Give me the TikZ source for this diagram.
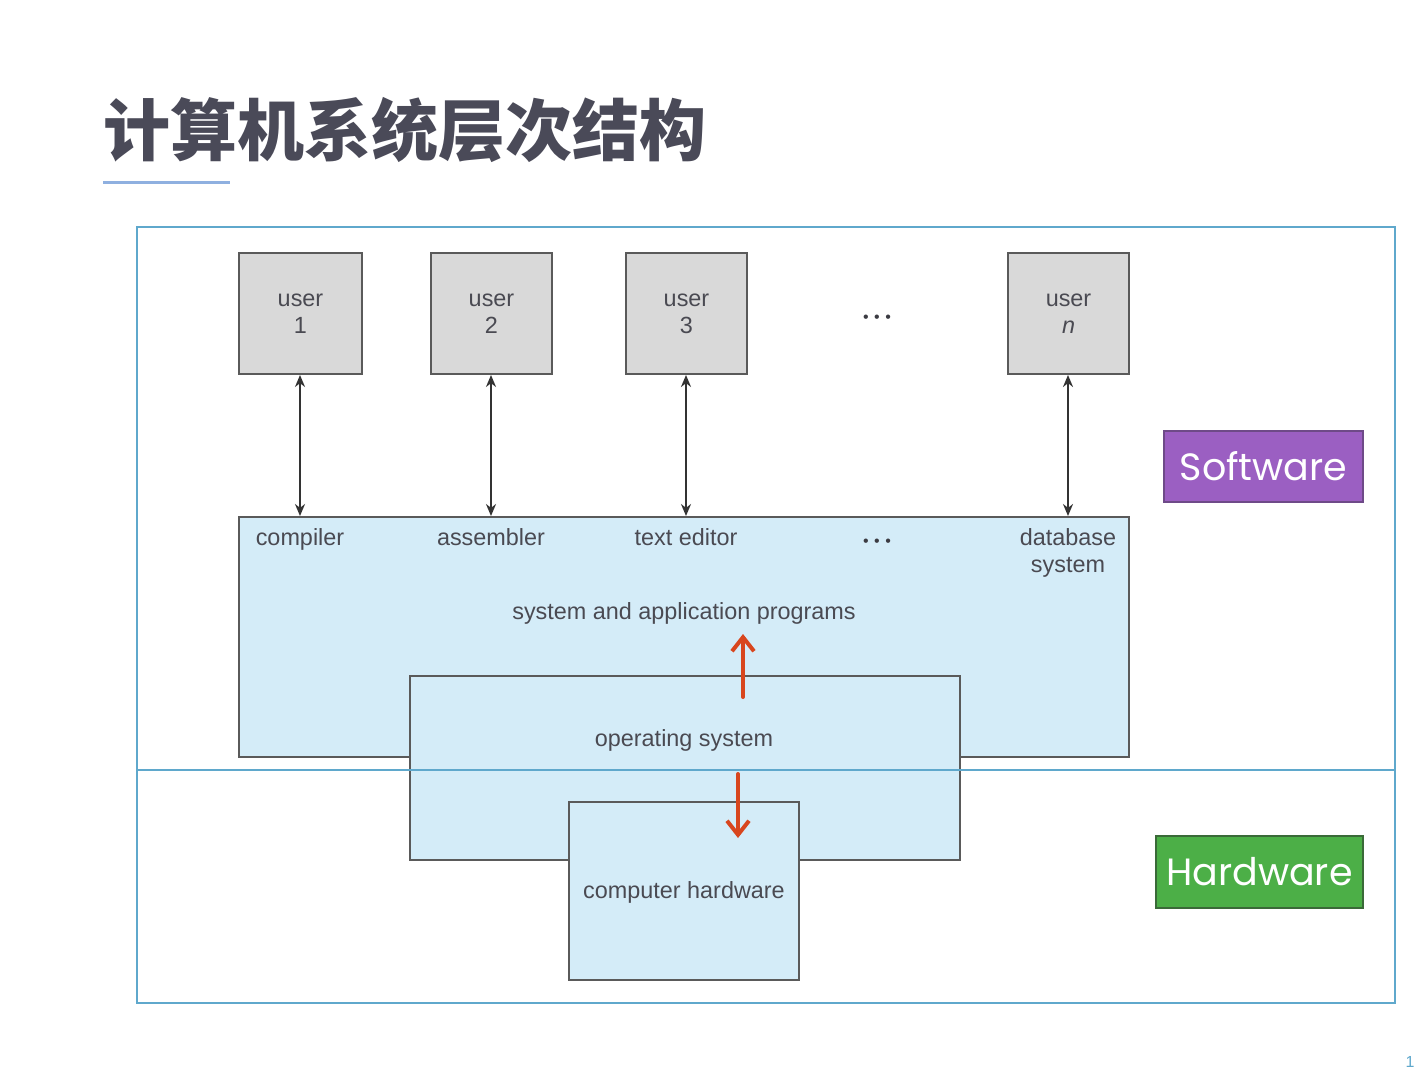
\documentclass[tikz,border=0pt]{standalone}
\usepackage{fontspec}
\setmainfont{Liberation Sans}
\newfontfamily\cjk{Noto Sans CJK SC}
\newfontfamily\labelfont{Poppins}
\usetikzlibrary{arrows.meta}
\definecolor{frameblue}{HTML}{5FA8CC}
\definecolor{boxgray}{HTML}{D9D9D9}
\definecolor{boxline}{HTML}{5A5A5A}
\definecolor{boxblue}{HTML}{D4ECF8}
\definecolor{txtgray}{HTML}{4A4A52}
\definecolor{titlegray}{HTML}{4A4A58}
\definecolor{uline}{HTML}{8FB0E0}
\definecolor{redarrow}{HTML}{D8461E}
\definecolor{softpurple}{HTML}{9B5FC2}
\definecolor{softpurpleline}{HTML}{6E4A88}
\definecolor{hardgreen}{HTML}{4CAF47}
\definecolor{hardgreenline}{HTML}{3A6A38}
\tikzset{
  userbox/.style={draw=boxline, fill=boxgray, line width=1pt},
  layerbox/.style={draw=boxline, fill=boxblue, line width=1pt},
  lbl/.style={text=txtgray, font=\fontsize{11.7}{13.5}\selectfont, align=center, inner sep=0pt},
  onelbl/.style={lbl, text height=1.6ex, text depth=0.4ex},
  dotlbl/.style={text=txtgray!80!black, font=\fontsize{8}{8}\selectfont, inner sep=0pt},
  dblarrow/.style={draw=black!80, line width=1.3pt, {Stealth[length=6pt,width=5pt]}-{Stealth[length=6pt,width=5pt]}},
  redarr/.style={draw=redarrow, line width=2pt, line cap=round, -{Straight Barb[length=7pt,width=11pt,line width=2pt]}},
  tagbox/.style={font=\labelfont\fontsize{19}{24}\selectfont, text=white, inner sep=0pt, line width=1pt}
}
\begin{document}
\begin{tikzpicture}[x=0.5pt,y=-0.5pt]
\useasboundingbox (0,0) rectangle (1419,1070);
\fill[white] (0,0) rectangle (1419,1070);
% title
\node[anchor=west, text=titlegray, font=\cjk\bfseries\fontsize{33.5}{36}\selectfont, inner sep=0pt] (title) at (103,130) {计算机系统层次结构};
\draw[uline, line width=1.5pt] (103,182) -- (230,182);
% outer frame
\draw[frameblue, line width=1pt] (137,227) rectangle (1395,1003);
% user boxes
\path[userbox] (239,253) rectangle (362,374);
\path[userbox] (431,253) rectangle (552,374);
\path[userbox] (626,253) rectangle (747,374);
\path[userbox] (1008,253) rectangle (1129,374);
\node[lbl] (u1) at (300.5,314) {user\\1};
\node[lbl] (u2) at (491.5,314) {user\\2};
\node[lbl] (u3) at (686.5,314) {user\\3};
\node[lbl] (un) at (1068.5,314) {user\\\textit{n}};
\node[dotlbl] (dots1) at (877,319) {\textbullet\hspace{2.8pt}\textbullet\hspace{2.8pt}\textbullet};
\coordinate (u1b) at (300,375); \coordinate (u2b) at (491,375);
\coordinate (u3b) at (686,375); \coordinate (unb) at (1068,375);
% programs box
\path[layerbox] (239,517) rectangle (1129,757);
\coordinate (p1) at (300,516); \coordinate (p2) at (491,516);
\coordinate (p3) at (686,516); \coordinate (pn) at (1068,516);
\draw[dblarrow] (u1b) -- (p1);
\draw[dblarrow] (u2b) -- (p2);
\draw[dblarrow] (u3b) -- (p3);
\draw[dblarrow] (unb) -- (pn);
\node[onelbl] (comp) at (300,539) {compiler};
\node[onelbl] (asm) at (491,539) {assembler};
\node[onelbl] (ted) at (686,539) {text editor};
\node[dotlbl] (dots2) at (877,543) {\textbullet\hspace{2.8pt}\textbullet\hspace{2.8pt}\textbullet};
\node[lbl, align=center] (db) at (1068,553) {database\\system};
\node[onelbl] (sap) at (684,613) {system and application programs};
% OS box
\path[layerbox] (410,676) rectangle (960,860);
\node[onelbl] (os) at (684,740) {operating system};
% hardware box
\path[layerbox] (569,802) rectangle (799,980);
\node[onelbl] (hw) at (684,892) {computer hardware};
% divider
\draw[frameblue, line width=1pt] (137,770) -- (1395,770);
% red arrows
\coordinate (ru1) at (743,697); \coordinate (ru2) at (743,634);
\coordinate (rd1) at (738,774); \coordinate (rd2) at (738,838);
\draw[redarr] (ru1) -- (ru2);
\draw[redarr] (rd1) -- (rd2);
% tags
\node[tagbox, draw=softpurpleline, fill=softpurple, minimum width=99.5pt, minimum height=35.5pt] (sw) at (1263.5,466.5) {Software};
\node[tagbox, draw=hardgreenline, fill=hardgreen, minimum width=103.5pt, minimum height=36pt] (hwtag) at (1259.5,872) {Hardware};
% page number
\node[text=frameblue, font=\fontsize{8}{8}\selectfont, inner sep=0pt] (pg) at (1410,1062) {1};
\end{tikzpicture}
\end{document}
